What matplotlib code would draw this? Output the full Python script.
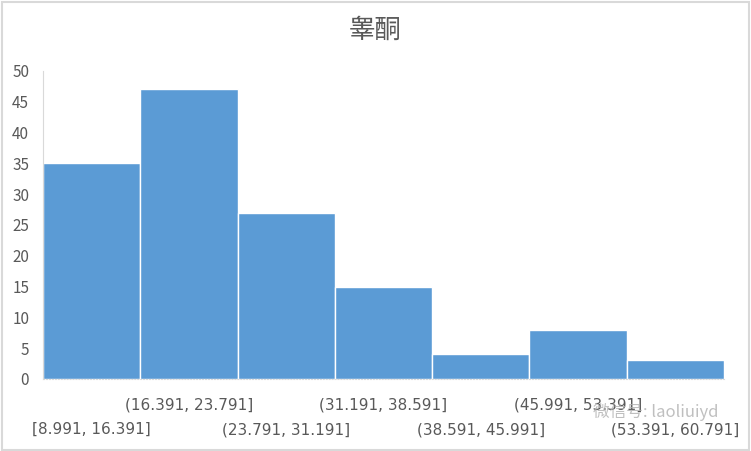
import matplotlib.pyplot as plt
from matplotlib.patches import Rectangle

plt.rcParams['font.family'] = ['Noto Sans CJK SC', 'DejaVu Sans']

# histogram bins and counts
bin_labels = ['[8.991, 16.391]', '(16.391, 23.791]', '(23.791, 31.191]',
              '(31.191, 38.591]', '(38.591, 45.991]', '(45.991, 53.391]',
              '(53.391, 60.791]']
counts = [35, 47, 27, 15, 4, 8, 3]
title = '睾酮'

fig = plt.figure(figsize=(7.51, 4.51), dpi=100)
ax = fig.add_axes([0.0573, 0.1597, 0.9067, 0.6829])

x = range(len(counts))
ax.bar(x, counts, width=1.0, color='#5b9bd5', edgecolor='white', linewidth=1.0)
ax.set_xlim(-0.5, len(counts) - 0.5)
ax.set_ylim(0, 50)
ax.set_yticks(range(0, 51, 5))
ax.tick_params(axis='y', length=0, labelsize=11, labelcolor='#595959', pad=10)
ax.set_xticks([])

for s in ['top', 'right']:
    ax.spines[s].set_visible(False)
ax.spines['left'].set_color('#d9d9d9')
ax.spines['bottom'].set_color('#d9d9d9')
ax.spines['bottom'].set_linestyle(':')

# staggered category labels
for i, lab in enumerate(bin_labels):
    yoff = -0.165 if i % 2 == 0 else -0.085
    ax.text(i, yoff, lab, transform=ax.get_xaxis_transform(), ha='center', va='center',
            fontsize=11, color='#595959', family='DejaVu Sans')

fig.text(0.5, 0.933, title, ha='center', va='center', fontsize=19, color='#595959')

# watermark
fig.text(0.79, 0.087, '微信号: laoliuiyd', ha='left', va='center', fontsize=12,
         color='#b0b0b0', alpha=0.8)

fig.patches.append(Rectangle((0.002, 0.003), 0.995, 0.993, transform=fig.transFigure,
                             fill=False, edgecolor='#d9d9d9', linewidth=1.5))

fig.savefig('out.png', dpi=100)
